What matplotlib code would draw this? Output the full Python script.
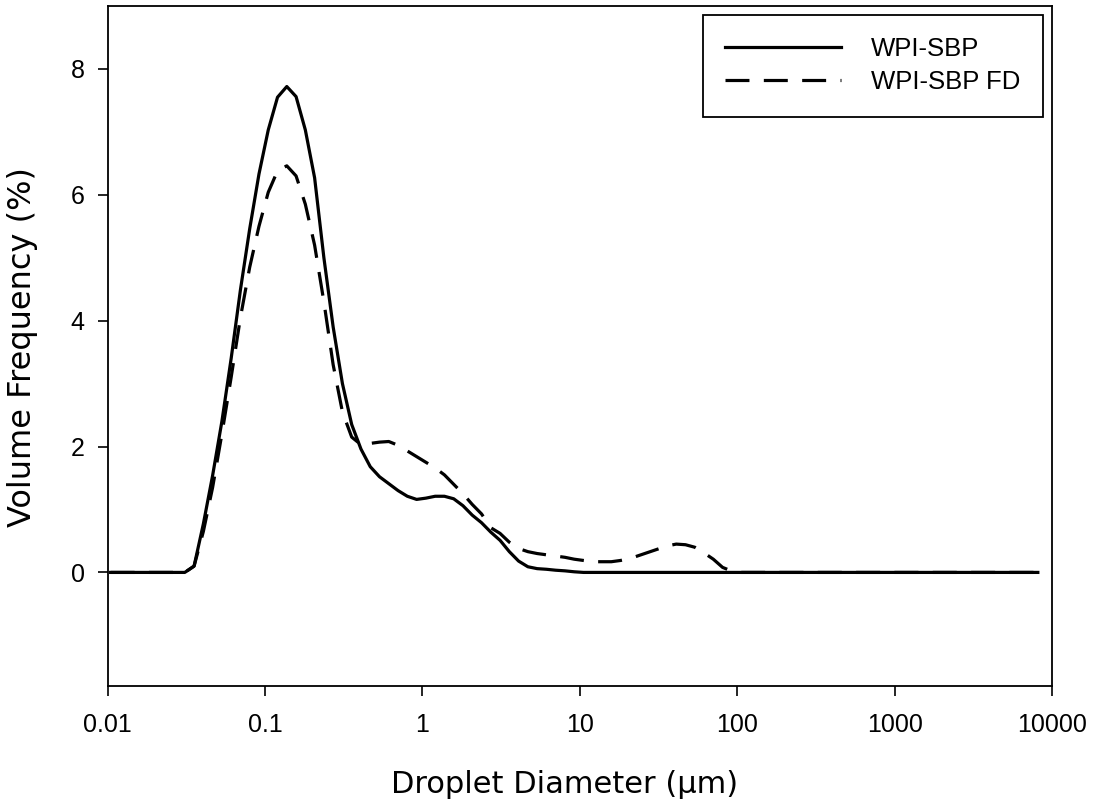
import numpy as np
import matplotlib
matplotlib.use("Agg")
import matplotlib.pyplot as plt

# Size classes of the particle sizer (geometric progression of channels, um)
first_channel_um = 0.01043
channel_ratio = 1.1453
n_channels = 101
diameter_um = first_channel_um * channel_ratio ** np.arange(n_channels)

# Volume frequency (%) per channel
wpi_sbp = [0, 0, 0, 0, 0, 0, 0, 0, 0,
           0.10, 0.77, 1.54, 2.40, 3.40, 4.49, 5.46, 6.33, 7.03, 7.55,
           7.72, 7.56, 7.03, 6.27, 5.00, 3.90, 3.00, 2.35, 1.96, 1.68,
           1.52, 1.41, 1.30, 1.21, 1.16, 1.18, 1.21, 1.21, 1.17, 1.06,
           0.91, 0.79, 0.64, 0.51, 0.33, 0.18, 0.09, 0.06, 0.05, 0.035,
           0.025, 0.01] + [0] * 50

wpi_sbp_fd = [0, 0, 0, 0, 0, 0, 0, 0, 0,
              0.10, 0.65, 1.35, 2.20, 3.10, 4.05, 4.85, 5.50, 6.04, 6.38,
              6.46, 6.30, 5.85, 5.20, 4.30, 3.30, 2.55, 2.15, 2.03, 2.05,
              2.07, 2.08, 2.02, 1.93, 1.84, 1.75, 1.66, 1.55, 1.40, 1.25,
              1.08, 0.93, 0.71, 0.62, 0.48, 0.38, 0.33, 0.30, 0.28, 0.26,
              0.24, 0.21, 0.19, 0.17, 0.17, 0.17, 0.19, 0.22, 0.27, 0.32,
              0.37, 0.42, 0.45, 0.44, 0.40, 0.31, 0.21, 0.08, 0.02] + [0] * 33

series_labels = ["WPI-SBP", "WPI-SBP FD"]
x_ticks = [0.01, 0.1, 1, 10, 100, 1000, 10000]
x_tick_labels = ["0.01", "0.1", "1", "10", "100", "1000", "10000"]
y_ticks = [0, 2, 4, 6, 8]

tick_font = "Liberation Sans"
label_font = "DejaVu Sans"

fig = plt.figure(figsize=(10.95, 8.07), dpi=100)
ax = fig.add_axes([0.0984, 0.1503, 0.8623, 0.8423])

ax.plot(diameter_um, wpi_sbp, color="black", lw=2.3,
        label=series_labels[0])
ax.plot(diameter_um, wpi_sbp_fd, color="black", lw=2.3, dashes=(7.5, 4.5),
        label=series_labels[1])

ax.set_xscale("log")
ax.set_xlim(0.01, 10000)
ax.set_ylim(-1.8, 9.0)
ax.set_xticks(x_ticks)
ax.set_xticklabels(x_tick_labels)
ax.xaxis.set_minor_locator(matplotlib.ticker.NullLocator())
ax.set_yticks(y_ticks)

for sp in ax.spines.values():
    sp.set_linewidth(1.3)
ax.tick_params(direction="out", length=7, width=1.2)
ax.tick_params(axis="x", pad=12.5)
ax.tick_params(axis="y", pad=9.5)
for lab in ax.get_xticklabels() + ax.get_yticklabels():
    lab.set_fontfamily(tick_font)
    lab.set_fontsize(18)

ax.set_xlabel("Droplet Diameter (\u03bcm)", fontfamily=label_font, fontsize=22)
ax.set_ylabel("Volume Frequency (%)", fontfamily=label_font, fontsize=23)
ax.xaxis.label.set_verticalalignment("center")
ax.yaxis.label.set_verticalalignment("center")
ax.xaxis.set_label_coords(0.484, -0.146)
ax.yaxis.set_label_coords(-0.0908, 0.498)

leg = ax.legend(loc="upper left", bbox_to_anchor=(0.630, 0.5, 0.360, 0.487),
                mode="expand", borderaxespad=0, frameon=True, fancybox=False,
                prop={"family": tick_font, "size": 18.5},
                handlelength=4.5, handletextpad=1.17, borderpad=0.88,
                labelspacing=0.33)
frame = leg.get_frame()
frame.set_edgecolor("black")
frame.set_linewidth(1.3)
frame.set_alpha(1)

fig.savefig("out.png", dpi=100)
